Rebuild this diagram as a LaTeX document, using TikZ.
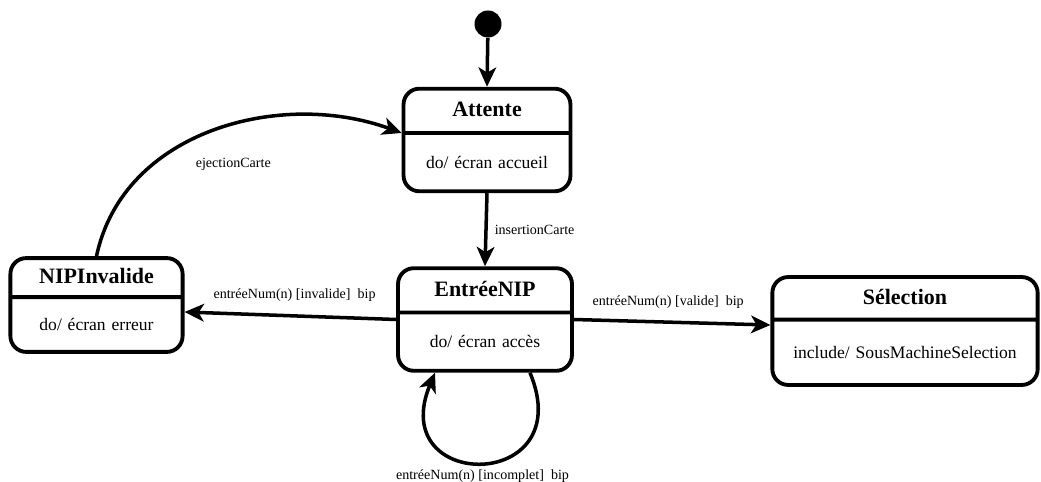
\documentclass[tikz,border=0pt]{standalone}
\usepackage{fontspec}
\setmainfont{Liberation Serif}
\usetikzlibrary{shapes}
\usetikzlibrary{positioning}
\usetikzlibrary{arrows.meta}
\usetikzlibrary{calc}

% one compartment of a state box: fixed height, text centred
\newcommand{\cell}[2]{\rule[\dimexpr 3.5pt-#1/2\relax]{0pt}{#1}#2}
\newcommand{\titre}[1]{\textbf{\fontsize{12.5}{14}\selectfont #1}}

\begin{document}
\begin{tikzpicture}[
    x=0.02cm, y=-0.02cm,
    font=\fontsize{10}{12}\selectfont
]
\tikzset{
    etat/.style = {rectangle split, rectangle split parts=2, draw=black,
        line width=2.2pt, rounded corners=9pt, inner xsep=0pt, inner ysep=0pt,
        align=center, text width=#1},
    trans/.style = {-{Stealth[length=11pt,width=10pt,inset=3pt]}, line width=2pt},
    lbl/.style = {font=\fontsize{8}{9}\selectfont, inner sep=2pt}
}
\useasboundingbox (0,0) rectangle (1041,482);

\node[circle, fill=black, minimum size=0.54cm, inner sep=0pt] at (488,24) (init) {};
\node[etat=95pt] at (487,140) (attente)
    {\cell{23pt}{\titre{Attente}}\nodepart{two}\cell{31pt}{do/ écran accueil}};
\node[etat=99pt] at (485,319.5) (entree)
    {\cell{23pt}{\titre{EntréeNIP}}\nodepart{two}\cell{31pt}{do/ écran accès}};
\node[etat=98pt] at (96.5,305) (invalide)
    {\cell{20pt}{\titre{NIPInvalide}}\nodepart{two}\cell{29pt}{do/ écran erreur}};
\node[etat=151pt] at (905,331) (selection)
    {\cell{22pt}{\titre{Sélection}}\nodepart{two}\cell{35pt}{include/ SousMachineSelection}};

\draw[trans] (init) -- (attente.north);
\draw[trans] (attente.south) -- node[lbl, right=2pt] {insertionCarte} (entree.north);
\draw[trans] (invalide.north) to[out=78, in=160]
    node[lbl, pos=0.42, below right=6pt and 2pt] {ejectionCarte} (attente.text split west);
\draw[trans] (entree.west) -- node[lbl, above=5pt, pos=0.48] {entréeNum(n) [invalide] \ bip}
    ($(invalide.east)+(0,7)$);
\draw[trans] (entree.east) -- node[lbl, above=5pt, pos=0.48] {entréeNum(n) [valide] \ bip}
    ($(selection.west)+(0,-6)$);
\draw[trans] ($(entree.south)+(45,0)$) .. controls +(50,120) and +(-50,120) ..
    node[lbl, below=1pt] {entréeNum(n) [incomplet] \ bip} ($(entree.south)+(-50,0)$);
\end{tikzpicture}
\end{document}
